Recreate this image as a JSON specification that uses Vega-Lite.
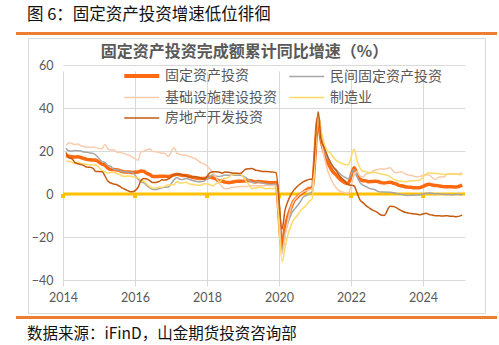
{
  "$schema": "https://vega.github.io/schema/vega-lite/v6.json",
  "padding": {"left": 16, "top": 5, "right": 4, "bottom": 0},
  "background": "white",
  "spacing": 2,
  "config": {
    "font": "Noto Sans CJK SC",
    "view": {"stroke": null}
  },
  "vconcat": [
    {
      "width": 479,
      "height": 1,
      "data": {"values": []},
      "mark": {"type": "rule"},
      "encoding": {},
      "view": {"stroke": "#ED7D31", "strokeWidth": 2},
      "title": {"text": "图 6：固定资产投资增速低位徘徊", "anchor": "start", "dx": 10, "fontSize": 16.5, "fontWeight": "normal", "color": "#111111", "font": "Noto Sans CJK SC", "offset": 10}
    },
    {
      "spacing": 9,
      "hconcat": [
        {
          "width": 1,
          "height": 1,
          "data": {"values": []},
          "mark": {"type": "rule"},
          "encoding": {},
          "view": {"stroke": null}
        },
        {
          "width": 457,
          "height": 275,
          "view": {"stroke": "#D9D9D9", "strokeWidth": 1},
          "title": {"text": "固定资产投资完成额累计同比增速（%）", "anchor": "middle", "dx": -12, "dy": 26, "fontSize": 16, "fontWeight": "bold", "color": "#595959", "font": "Noto Sans CJK SC"},
          "layer": [
            {
              "data": {"values": [{"t": "2014-01"}]},
              "mark": {"type": "rule", "color": "#FFC000", "strokeWidth": 3},
              "encoding": {
                "x": {"datum": {"year": 2014, "month": 1, "date": 1, "utc": true}, "type": "temporal"},
                "x2": {"datum": {"year": 2025, "month": 3, "date": 1, "utc": true}},
                "y": {"datum": 0, "type": "quantitative"}
              }
            },
            {
              "data": {"values": [{"t": "2014-01"}, {"t": "2016-01"}, {"t": "2018-01"}, {"t": "2020-01"}, {"t": "2022-01"}, {"t": "2024-01"}], "format": {"parse": {"t": "utc:'%Y-%m'"}}},
              "mark": {"type": "square", "color": "#FFC000", "size": 16, "yOffset": 2, "opacity": 1, "filled": true},
              "encoding": {
                "x": {"field": "t", "type": "temporal"},
                "y": {"datum": 0, "type": "quantitative"}
              }
            },
            {
              "data": {
                "format": {"parse": {"t": "utc:'%Y-%m'"}},
                "values": [
                  {"t":"2014-02","a":17.9,"p":21.3,"i":22.5,"m":15.1,"r":19.3},
                  {"t":"2014-03","a":17.6,"p":20.1,"i":23.8,"m":15.2,"r":16.8},
                  {"t":"2014-04","a":17.3,"p":20.0,"i":23.5,"m":14.7,"r":16.4},
                  {"t":"2014-05","a":17.2,"p":20.2,"i":23.0,"m":14.3,"r":14.7},
                  {"t":"2014-06","a":17.3,"p":20.1,"i":23.3,"m":14.8,"r":14.1},
                  {"t":"2014-07","a":17.0,"p":20.0,"i":22.5,"m":14.2,"r":13.7},
                  {"t":"2014-08","a":16.5,"p":19.5,"i":22.0,"m":14.0,"r":13.2},
                  {"t":"2014-09","a":16.1,"p":19.4,"i":21.8,"m":13.8,"r":12.5},
                  {"t":"2014-10","a":15.9,"p":19.1,"i":21.7,"m":13.5,"r":12.4},
                  {"t":"2014-11","a":15.8,"p":18.9,"i":21.9,"m":13.5,"r":11.9},
                  {"t":"2014-12","a":15.7,"p":18.1,"i":21.5,"m":13.5,"r":10.5},
                  {"t":"2015-02","a":13.9,"p":15.1,"i":21.0,"m":10.9,"r":10.4},
                  {"t":"2015-03","a":13.5,"p":14.7,"i":23.0,"m":10.4,"r":8.5},
                  {"t":"2015-04","a":12.0,"p":13.3,"i":21.0,"m":9.7,"r":6.0},
                  {"t":"2015-05","a":11.4,"p":12.8,"i":20.5,"m":10.0,"r":5.1},
                  {"t":"2015-06","a":11.4,"p":11.4,"i":20.5,"m":10.1,"r":4.6},
                  {"t":"2015-07","a":11.2,"p":11.3,"i":19.5,"m":9.5,"r":4.3},
                  {"t":"2015-08","a":10.9,"p":10.9,"i":19.3,"m":9.0,"r":3.5},
                  {"t":"2015-09","a":10.3,"p":10.4,"i":19.0,"m":8.3,"r":2.6},
                  {"t":"2015-10","a":10.2,"p":10.3,"i":18.5,"m":8.3,"r":2.0},
                  {"t":"2015-11","a":10.2,"p":10.1,"i":18.0,"m":8.4,"r":1.3},
                  {"t":"2015-12","a":10.0,"p":10.1,"i":17.3,"m":8.1,"r":1.0},
                  {"t":"2016-02","a":10.2,"p":6.9,"i":15.7,"m":7.5,"r":3.0},
                  {"t":"2016-03","a":10.7,"p":5.7,"i":19.6,"m":6.4,"r":6.2},
                  {"t":"2016-04","a":10.5,"p":5.2,"i":19.9,"m":6.0,"r":7.2},
                  {"t":"2016-05","a":9.6,"p":3.9,"i":20.6,"m":4.6,"r":7.0},
                  {"t":"2016-06","a":9.0,"p":2.8,"i":20.9,"m":3.3,"r":6.1},
                  {"t":"2016-07","a":8.1,"p":2.1,"i":19.8,"m":2.8,"r":5.3},
                  {"t":"2016-08","a":8.1,"p":2.1,"i":19.7,"m":2.8,"r":5.4},
                  {"t":"2016-09","a":8.2,"p":2.5,"i":19.4,"m":3.1,"r":5.8},
                  {"t":"2016-10","a":8.3,"p":2.9,"i":18.9,"m":3.1,"r":6.6},
                  {"t":"2016-11","a":8.3,"p":3.1,"i":18.9,"m":3.6,"r":6.5},
                  {"t":"2016-12","a":8.1,"p":3.2,"i":17.4,"m":4.2,"r":6.9},
                  {"t":"2017-02","a":8.9,"p":6.7,"i":21.5,"m":4.3,"r":8.9},
                  {"t":"2017-03","a":9.2,"p":7.7,"i":19.0,"m":5.8,"r":9.1},
                  {"t":"2017-04","a":8.9,"p":6.9,"i":18.5,"m":5.1,"r":9.3},
                  {"t":"2017-05","a":8.6,"p":6.8,"i":18.0,"m":5.1,"r":8.8},
                  {"t":"2017-06","a":8.6,"p":7.2,"i":18.0,"m":5.5,"r":8.5},
                  {"t":"2017-07","a":8.3,"p":6.9,"i":17.5,"m":4.8,"r":7.9},
                  {"t":"2017-08","a":7.8,"p":6.4,"i":17.0,"m":4.5,"r":7.9},
                  {"t":"2017-09","a":7.5,"p":6.0,"i":16.5,"m":4.2,"r":8.1},
                  {"t":"2017-10","a":7.3,"p":5.7,"i":15.5,"m":4.1,"r":7.8},
                  {"t":"2017-11","a":7.2,"p":5.7,"i":14.5,"m":4.1,"r":7.5},
                  {"t":"2017-12","a":7.2,"p":6.0,"i":14.0,"m":4.8,"r":7.0},
                  {"t":"2018-02","a":7.9,"p":8.1,"i":11.5,"m":4.3,"r":9.9},
                  {"t":"2018-03","a":7.5,"p":8.9,"i":10.0,"m":3.8,"r":10.4},
                  {"t":"2018-04","a":7.0,"p":8.4,"i":8.0,"m":4.8,"r":10.3},
                  {"t":"2018-05","a":6.1,"p":8.1,"i":5.5,"m":5.2,"r":10.2},
                  {"t":"2018-06","a":6.0,"p":8.4,"i":3.5,"m":6.8,"r":9.7},
                  {"t":"2018-07","a":5.5,"p":8.8,"i":2.5,"m":7.3,"r":10.2},
                  {"t":"2018-08","a":5.3,"p":8.7,"i":2.5,"m":7.5,"r":10.1},
                  {"t":"2018-09","a":5.4,"p":8.7,"i":3.0,"m":8.7,"r":9.9},
                  {"t":"2018-10","a":5.7,"p":8.7,"i":3.2,"m":9.1,"r":9.7},
                  {"t":"2018-11","a":5.9,"p":8.7,"i":3.3,"m":9.5,"r":9.7},
                  {"t":"2018-12","a":5.9,"p":8.7,"i":3.5,"m":9.5,"r":9.5},
                  {"t":"2019-02","a":6.1,"p":7.5,"i":3.5,"m":5.9,"r":11.6},
                  {"t":"2019-03","a":6.3,"p":6.4,"i":3.6,"m":4.6,"r":11.8},
                  {"t":"2019-04","a":6.1,"p":5.5,"i":3.8,"m":2.5,"r":11.9},
                  {"t":"2019-05","a":5.6,"p":5.3,"i":3.8,"m":2.7,"r":11.2},
                  {"t":"2019-06","a":5.8,"p":5.7,"i":3.8,"m":3.0,"r":10.9},
                  {"t":"2019-07","a":5.7,"p":5.4,"i":3.8,"m":3.3,"r":10.6},
                  {"t":"2019-08","a":5.5,"p":4.9,"i":3.8,"m":2.6,"r":10.5},
                  {"t":"2019-09","a":5.4,"p":4.7,"i":4.0,"m":2.5,"r":10.5},
                  {"t":"2019-10","a":5.2,"p":4.4,"i":4.0,"m":2.6,"r":10.3},
                  {"t":"2019-11","a":5.2,"p":4.5,"i":4.0,"m":2.5,"r":10.2},
                  {"t":"2019-12","a":5.4,"p":4.7,"i":4.0,"m":3.1,"r":9.9},
                  {"t":"2020-02","a":-24.5,"p":-26.4,"i":-28.0,"m":-31.5,"r":-16.3},
                  {"t":"2020-03","a":-16.1,"p":-18.8,"i":-20.0,"m":-25.2,"r":-7.7},
                  {"t":"2020-04","a":-10.3,"p":-13.3,"i":-12.0,"m":-18.8,"r":-3.3},
                  {"t":"2020-05","a":-6.3,"p":-9.6,"i":-6.3,"m":-14.8,"r":-0.3},
                  {"t":"2020-06","a":-3.1,"p":-7.3,"i":-3.0,"m":-11.7,"r":1.9},
                  {"t":"2020-07","a":-1.6,"p":-5.7,"i":-1.5,"m":-10.2,"r":3.4},
                  {"t":"2020-08","a":-0.3,"p":-3.8,"i":0.0,"m":-8.1,"r":4.6},
                  {"t":"2020-09","a":0.8,"p":-1.5,"i":1.0,"m":-6.5,"r":5.6},
                  {"t":"2020-10","a":1.8,"p":-0.7,"i":1.5,"m":-5.3,"r":6.3},
                  {"t":"2020-11","a":2.6,"p":0.2,"i":2.0,"m":-3.5,"r":6.8},
                  {"t":"2020-12","a":2.9,"p":1.0,"i":2.5,"m":-2.2,"r":7.0},
                  {"t":"2021-02","a":35.0,"p":36.4,"i":35.0,"m":37.3,"r":38.3},
                  {"t":"2021-03","a":25.6,"p":26.0,"i":26.0,"m":29.8,"r":25.6},
                  {"t":"2021-04","a":19.9,"p":21.0,"i":18.0,"m":23.8,"r":21.6},
                  {"t":"2021-05","a":15.4,"p":17.0,"i":12.0,"m":20.4,"r":18.3},
                  {"t":"2021-06","a":12.6,"p":15.4,"i":8.0,"m":19.2,"r":15.0},
                  {"t":"2021-07","a":10.3,"p":12.7,"i":5.0,"m":17.3,"r":12.7},
                  {"t":"2021-08","a":8.9,"p":11.5,"i":3.0,"m":15.7,"r":10.9},
                  {"t":"2021-09","a":7.3,"p":9.8,"i":1.5,"m":14.8,"r":8.8},
                  {"t":"2021-10","a":6.1,"p":8.6,"i":1.0,"m":14.2,"r":7.2},
                  {"t":"2021-11","a":5.2,"p":7.7,"i":0.5,"m":13.7,"r":6.0},
                  {"t":"2021-12","a":4.9,"p":7.0,"i":0.4,"m":13.5,"r":4.4},
                  {"t":"2022-02","a":12.2,"p":11.4,"i":8.6,"m":20.9,"r":3.7},
                  {"t":"2022-03","a":9.3,"p":8.4,"i":10.5,"m":15.6,"r":0.7},
                  {"t":"2022-04","a":6.8,"p":5.3,"i":8.3,"m":12.2,"r":-2.7},
                  {"t":"2022-05","a":6.2,"p":4.1,"i":7.9,"m":10.6,"r":-4.0},
                  {"t":"2022-06","a":6.1,"p":3.5,"i":9.3,"m":10.4,"r":-5.4},
                  {"t":"2022-07","a":5.7,"p":2.7,"i":9.6,"m":9.9,"r":-6.4},
                  {"t":"2022-08","a":5.8,"p":2.3,"i":10.4,"m":10.0,"r":-7.4},
                  {"t":"2022-09","a":5.9,"p":2.0,"i":11.2,"m":10.1,"r":-8.0},
                  {"t":"2022-10","a":5.8,"p":1.2,"i":11.4,"m":9.7,"r":-8.8},
                  {"t":"2022-11","a":5.3,"p":0.9,"i":11.7,"m":9.3,"r":-9.8},
                  {"t":"2022-12","a":5.1,"p":0.9,"i":11.5,"m":9.1,"r":-10.0},
                  {"t":"2023-02","a":5.5,"p":0.8,"i":12.2,"m":8.1,"r":-5.7},
                  {"t":"2023-03","a":5.1,"p":0.6,"i":10.8,"m":7.0,"r":-5.8},
                  {"t":"2023-04","a":4.7,"p":0.4,"i":9.8,"m":6.4,"r":-6.2},
                  {"t":"2023-05","a":4.0,"p":-0.1,"i":10.1,"m":6.0,"r":-7.2},
                  {"t":"2023-06","a":3.8,"p":-0.2,"i":10.2,"m":6.0,"r":-7.9},
                  {"t":"2023-07","a":3.4,"p":-0.5,"i":9.4,"m":5.7,"r":-8.5},
                  {"t":"2023-08","a":3.2,"p":-0.7,"i":8.9,"m":5.9,"r":-8.8},
                  {"t":"2023-09","a":3.1,"p":-0.6,"i":8.6,"m":6.2,"r":-9.1},
                  {"t":"2023-10","a":2.9,"p":-0.5,"i":8.3,"m":6.2,"r":-9.3},
                  {"t":"2023-11","a":2.9,"p":-0.5,"i":8.0,"m":6.3,"r":-9.4},
                  {"t":"2023-12","a":3.0,"p":-0.4,"i":8.2,"m":6.5,"r":-9.6},
                  {"t":"2024-02","a":4.2,"p":0.4,"i":9.0,"m":9.4,"r":-9.0},
                  {"t":"2024-03","a":4.5,"p":0.5,"i":8.8,"m":9.9,"r":-9.5},
                  {"t":"2024-04","a":4.2,"p":0.3,"i":7.8,"m":9.7,"r":-9.8},
                  {"t":"2024-05","a":4.0,"p":0.1,"i":6.7,"m":9.6,"r":-10.1},
                  {"t":"2024-06","a":3.9,"p":0.1,"i":7.7,"m":9.5,"r":-10.1},
                  {"t":"2024-07","a":3.6,"p":0.0,"i":8.0,"m":9.3,"r":-10.2},
                  {"t":"2024-08","a":3.4,"p":-0.2,"i":7.9,"m":9.1,"r":-10.2},
                  {"t":"2024-09","a":3.4,"p":-0.2,"i":9.3,"m":9.2,"r":-10.1},
                  {"t":"2024-10","a":3.4,"p":-0.3,"i":9.4,"m":9.3,"r":-10.3},
                  {"t":"2024-11","a":3.3,"p":-0.4,"i":9.4,"m":9.3,"r":-10.4},
                  {"t":"2024-12","a":3.2,"p":-0.1,"i":9.2,"m":9.2,"r":-10.6},
                  {"t":"2025-02","a":4.1,"p":-0.4,"i":9.9,"m":9.0,"r":-9.8}
                ]
              },
              "transform": [{"fold": ["a", "p", "i", "m", "r"], "as": ["s", "v"]}],
              "mark": {"type": "line", "interpolate": "monotone"},
              "encoding": {
                "x": {
                  "field": "t", "type": "temporal",
                  "scale": {"type": "utc", "domain": [{"year": 2014, "month": 1, "date": 1, "utc": true}, {"year": 2025, "month": 3, "date": 1, "utc": true}], "range": [35, 437]},
                  "axis": {"title": null, "offset": -33, "domain": false, "ticks": false, "grid": true, "gridColor": "#D9D9D9", "gridWidth": 1,
                    "values": [{"year": 2014, "utc": true}, {"year": 2016, "utc": true}, {"year": 2018, "utc": true}, {"year": 2020, "utc": true}, {"year": 2022, "utc": true}, {"year": 2024, "utc": true}],
                    "format": "%Y", "labelFont": "Lato", "labelFontSize": 12.5, "labelColor": "#595959", "labelPadding": 11, "labelFlush": false}
                },
                "y": {
                  "field": "v", "type": "quantitative",
                  "scale": {"domain": [-40, 60], "range": [242, 27], "nice": false, "zero": false},
                  "axis": {"title": null, "offset": -35, "domain": false, "ticks": false, "grid": true, "gridColor": "#D9D9D9", "gridWidth": 1,
                    "values": [-40, -20, 0, 20, 40, 60], "labelFont": "Lato", "labelFontSize": 12.5, "labelColor": "#595959", "labelPadding": 10}
                },
                "color": {
                  "field": "s", "type": "nominal",
                  "scale": {"domain": ["a", "p", "i", "m", "r"], "range": ["#FF6A10", "#A6A6A6", "#F8CBAD", "#FFD966", "#C55A11"]},
                  "legend": {
                    "title": null, "orient": "none", "legendX": 109, "legendY": 36, "columns": 2, "direction": "horizontal",
                    "symbolType": "M-1,0L3,0", "symbolSize": 306, "symbolStrokeWidth": 1.5,
                    "labelFont": "Noto Sans CJK SC", "labelFontSize": 14, "labelColor": "#595959", "labelOffset": 25, "labelLimit": 0,
                    "rowPadding": 6.5, "columnPadding": 9, "padding": 0,
                    "labelExpr": "datum.value == 'a' ? '固定资产投资' : datum.value == 'p' ? '民间固定资产投资' : datum.value == 'i' ? '基础设施建设投资' : datum.value == 'm' ? '制造业' : '房地产开发投资'",
                    "encode": {"symbols": {"update": {"strokeWidth": {"signal": "datum.value == 'a' ? 4 : 1.5"}}}}
                  }
                },
                "strokeWidth": {"condition": {"test": "datum.s == 'a'", "value": 3.5}, "value": 1.5}
              }
            }
          ]
        }
      ]
    },
    {
      "width": 479,
      "height": 1,
      "data": {"values": []},
      "mark": {"type": "rule"},
      "encoding": {},
      "view": {"stroke": "#ED7D31", "strokeWidth": 2},
      "title": {"text": "数据来源：iFinD，山金期货投资咨询部", "orient": "bottom", "anchor": "start", "dx": 10, "fontSize": 15.5, "fontWeight": "normal", "color": "#111111", "font": "Noto Sans CJK SC", "offset": 9}
    }
  ]
}
